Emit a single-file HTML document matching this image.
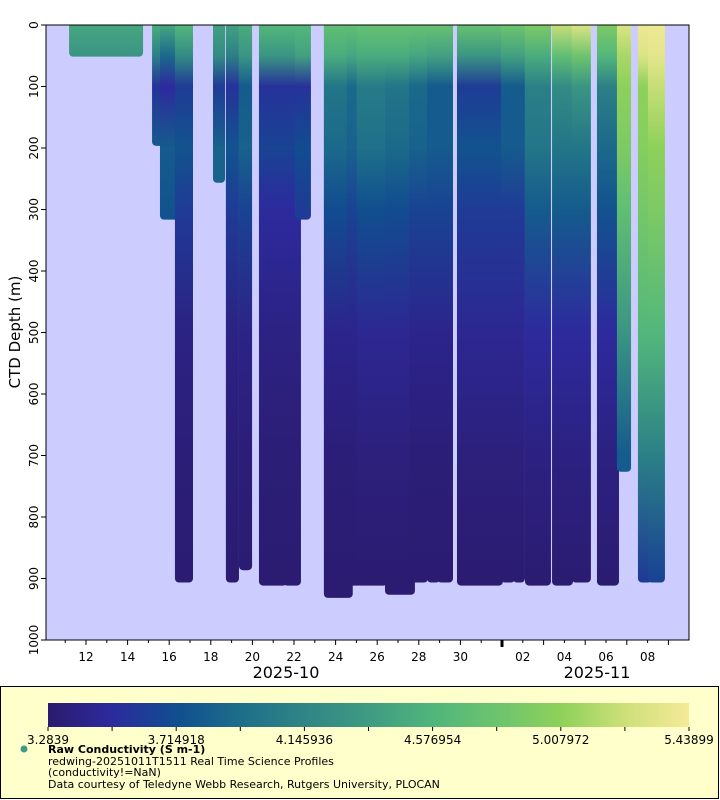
<!DOCTYPE html>
<html><head><meta charset="utf-8"><style>
html,body{margin:0;padding:0;background:#fff;}
svg{display:block;font-family:"DejaVu Sans","Liberation Sans",sans-serif;}
</style></head><body>
<svg id="chart" width="720" height="800" viewBox="0 0 720 800" xmlns="http://www.w3.org/2000/svg">
<defs>
<clipPath id="plotclip"><rect x="46" y="25" width="643" height="615"/></clipPath>
<linearGradient id="cbgrad" x1="0" x2="1" y1="0" y2="0"></linearGradient>
</defs>
<rect x="46" y="25" width="643" height="615" fill="#ccccff"/>
<g id="marks" clip-path="url(#plotclip)"></g>
<rect x="46" y="25" width="643" height="615" fill="none" stroke="#000" stroke-width="1"/>
<g id="yaxis"></g>
<g id="xaxis"></g>
<text x="20" y="332" transform="rotate(-90 20 332)" text-anchor="middle" font-size="15" fill="#000">CTD Depth (m)</text>
<text x="286" y="678" text-anchor="middle" font-size="16">2025-10</text>
<text x="597" y="678" text-anchor="middle" font-size="16">2025-11</text>
<rect x="0.5" y="686.5" width="718" height="112" fill="#ffffcc" stroke="#000"/>
<rect x="48" y="703" width="641" height="24" fill="url(#cbgrad)"/>
<g id="cbticks"></g>
<circle cx="24" cy="749" r="3.5" fill="#3f9a8a"/>
<text x="48" y="753" font-size="11" font-weight="bold">Raw Conductivity (S m-1)</text>
<text x="48" y="765" font-size="11">redwing-20251011T1511 Real Time Science Profiles</text>
<text x="48" y="776" font-size="11">(conductivity!=NaN)</text>
<text x="48" y="788" font-size="11">Data courtesy of Teledyne Webb Research, Rutgers University, PLOCAN</text>
</svg>
<script>
// Data (day numbers counted from Oct 0, 2025; day 32 = Nov 1)
const depthStops = [0,50,100,200,300,500,700,900];
const startDays = [11.33,15.32,15.7,16.42,18.25,18.87,19.5,20.46,21.62,22.19,23.58,24.68,25.16,26.52,27.67,28.54,29.02,29.98,32.1,32.67,33.25,34.55,35.5,36.71,37.67,38.68,39.16];
const endDays   = [14.6,15.7,16.42,17.0,18.54,19.21,19.84,21.52,22.19,22.67,24.68,25.16,26.37,27.67,28.3,28.88,29.5,31.9,32.48,32.96,34.21,35.27,36.13,37.48,38.06,39.07,39.69];
const maxDepths = [45,190,310,900,250,900,880,905,905,310,925,905,905,920,900,900,900,905,900,900,905,905,900,905,720,900,900];
const condValues = [
[4.45,4.3,4.3,4.3,4.3,4.3,4.3,4.3],
[4.5,4.1,3.55,3.8,3.8,3.8,3.8,3.8],
[4.45,3.9,3.5,3.8,3.75,3.75,3.75,3.75],
[4.6,4.2,3.6,3.75,3.6,3.38,3.33,3.3],
[4.4,4.2,3.6,3.85,3.85,3.85,3.85,3.85],
[4.4,4.1,3.55,3.75,3.6,3.38,3.33,3.3],
[4.5,4.3,3.8,3.85,3.65,3.4,3.33,3.3],
[4.6,4.3,3.55,3.65,3.5,3.38,3.32,3.3],
[4.6,4.3,3.55,3.65,3.5,3.38,3.32,3.3],
[4.6,4.4,3.55,3.7,3.6,3.6,3.6,3.6],
[4.7,4.5,4.0,3.9,3.7,3.42,3.33,3.3],
[4.7,4.45,3.9,3.85,3.65,3.42,3.33,3.3],
[4.75,4.5,4.05,3.95,3.72,3.45,3.35,3.3],
[4.75,4.5,4.0,3.9,3.7,3.45,3.35,3.3],
[4.75,4.45,3.9,3.85,3.65,3.42,3.33,3.3],
[4.75,4.4,3.8,3.8,3.65,3.42,3.33,3.3],
[4.75,4.4,3.8,3.8,3.65,3.42,3.33,3.3],
[4.75,4.3,3.6,3.75,3.6,3.45,3.35,3.3],
[4.8,4.4,3.8,3.8,3.6,3.45,3.35,3.3],
[4.8,4.4,3.8,3.8,3.6,3.45,3.35,3.3],
[4.9,4.5,4.1,4.0,3.8,3.5,3.37,3.3],
[5.2,4.7,4.2,4.0,3.8,3.5,3.37,3.3],
[5.3,4.8,4.3,4.0,3.8,3.5,3.37,3.3],
[4.9,4.6,4.1,3.9,3.75,3.5,3.37,3.3],
[5.3,5.1,5.0,4.9,4.7,4.3,3.8,3.8],
[5.4,5.3,5.0,4.95,4.85,4.6,4.1,3.6],
[5.4,5.35,5.2,5.0,4.9,4.6,4.1,3.65]
];
const yTicks = [0,100,200,300,400,500,600,700,800,900,1000];
const xTickLabels = ["12","14","16","18","20","22","24","26","28","30","02","04","06","08"];
const xTickDays = [12,14,16,18,20,22,24,26,28,30,33,35,37,39];
const cbLabels = ["3.2839","3.714918","4.145936","4.576954","5.007972","5.43899"];
const cMin = 3.2839, cMax = 5.43899;

const cmap = ["#2b1b6e","#2d2a9d","#104e8f","#1d6e8a","#2f8585","#3f9b82","#50b57c","#6cc46e","#8ed15a","#cde07a","#f5ea98"];
const NS="http://www.w3.org/2000/svg";
function xScale(d){return 44.4+(d-10)*20.8;}
function yScale(m){return 25+m*0.615;}
function hex(h){return [1,3,5].map(i=>parseInt(h.substr(i,2),16));}
function color(v){
  let t=Math.max(0,Math.min(1,(v-cMin)/(cMax-cMin)))*(cmap.length-1);
  let i=Math.min(cmap.length-2,Math.floor(t)),f=t-i;
  const a=hex(cmap[i]),b=hex(cmap[i+1]);
  return "rgb("+a.map((c,k)=>Math.round(c+(b[k]-c)*f)).join(",")+")";
}
function el(tag,attrs,parent){const e=document.createElementNS(NS,tag);for(const k in attrs)e.setAttribute(k,attrs[k]);parent.appendChild(e);return e;}

const cbg=document.getElementById('cbgrad');
cmap.forEach((c,i)=>{el('stop',{offset:(i/(cmap.length-1)),'stop-color':c},cbg);});
const defs=document.querySelector('defs');
const marks=document.getElementById('marks');
startDays.forEach((sd,i)=>{
  const gid='g'+i;
  const g=el('linearGradient',{id:gid,x1:0,x2:0,y1:yScale(0),y2:yScale(900),gradientUnits:'userSpaceOnUse'},defs);
  depthStops.forEach((d,k)=>{el('stop',{offset:d/900,'stop-color':color(condValues[i][k])},g);});
  const x0=xScale(sd)-3,x1=xScale(endDays[i])+3;
  const yb=yScale(maxDepths[i]);
  const p=el('path',{d:`M${x0},${yScale(0)-5}H${x1}V${yb}A4,4 0 0 1 ${x1-4},${yb+4}H${x0+4}A4,4 0 0 1 ${x0},${yb}Z`,fill:'url(#'+gid+')'},marks);
  
  
});

const ya=document.getElementById('yaxis');
yTicks.forEach(v=>{
  const y=yScale(v);
  el('line',{x1:41,x2:46,y1:y,y2:y,stroke:'#000'},ya);
  const t=el('text',{x:38,y:y,transform:`rotate(-90 38 ${y})`,'text-anchor':'middle','font-size':12},ya);
  t.textContent=v;
  
  
});
const xa=document.getElementById('xaxis');
for(let d=11;d<=40;d++){
  const x=xScale(d);
  if(x<46||x>689)continue;
  el('line',{x1:x,x2:x,y1:640,y2:d===32?647:(d%2===0?645:643),stroke:'#000','stroke-width':d===32?3:1},xa);
}
xTickDays.forEach((d,i)=>{
  const t=el('text',{x:xScale(d),y:661,'text-anchor':'middle','font-size':12},xa);
  t.textContent=xTickLabels[i];
  
  
});
const cbt=document.getElementById('cbticks');
for(let i=0;i<=10;i++){const x=48+i*64.1;el('line',{x1:x,x2:x,y1:727,y2:731,stroke:'#000'},cbt);}
cbLabels.forEach((s,i)=>{
  const t=el('text',{x:48+i*128.2,y:744,'text-anchor':'middle','font-size':12},cbt);
  t.textContent=s;
  
  
});
</script>
</body></html>
